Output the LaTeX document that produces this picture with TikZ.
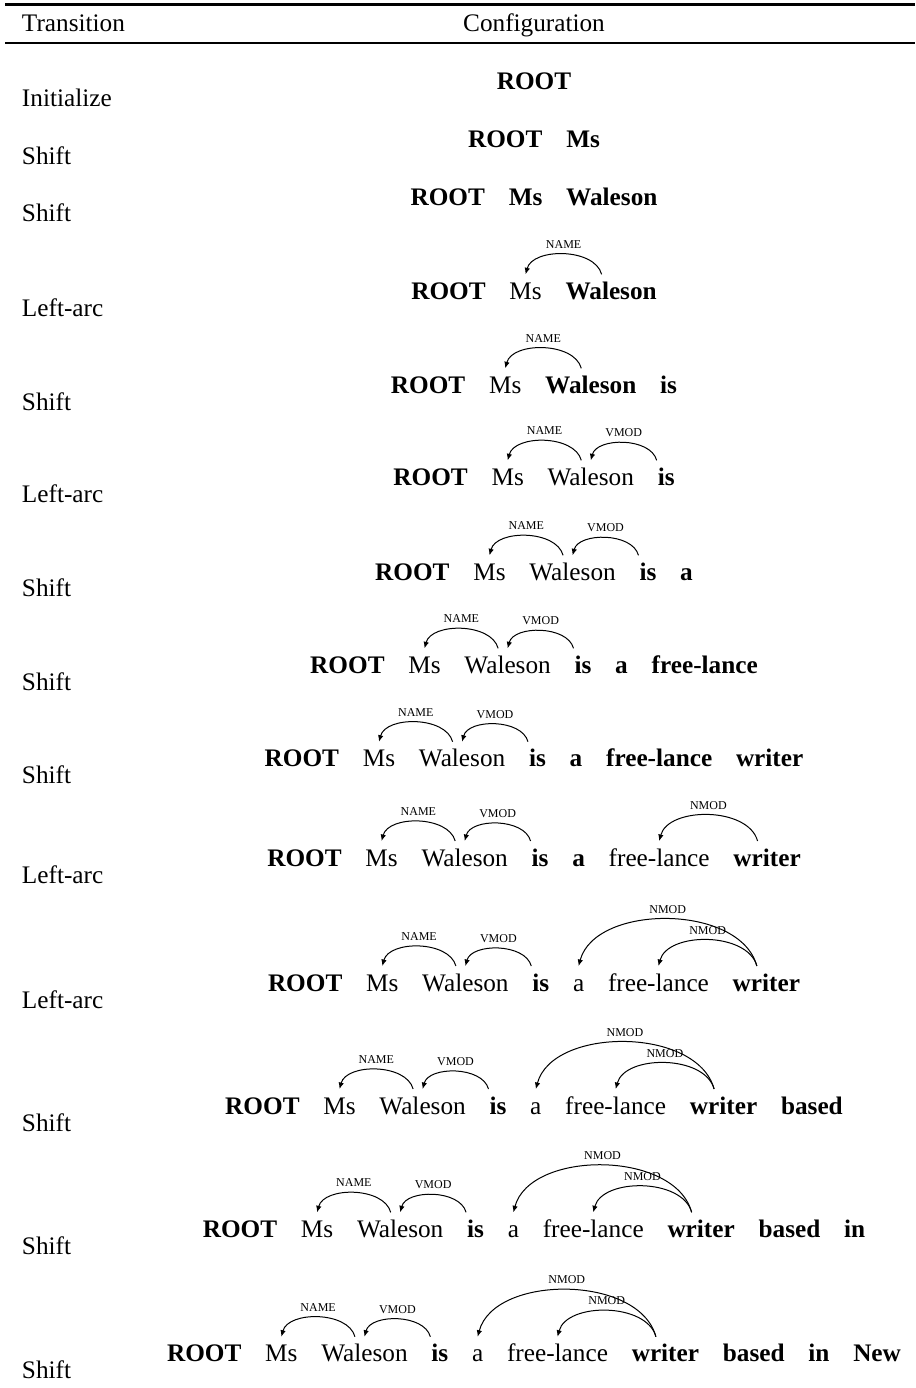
\documentclass[tikz,border=0pt]{standalone}
\usepackage{fontspec}
\setmainfont{Liberation Serif}
\usetikzlibrary{matrix,calc,arrows.meta}
\tikzset{
  word/.style={inner sep=0pt, text height=7pt, text depth=2pt},
  sent/.style={matrix of nodes, ampersand replacement=\&, column sep=9.52pt, inner sep=0pt, anchor=center, nodes={word}},
  deparc/.style={line width=0.4pt, -{Latex[length=2.6pt,width=2.2pt]}},
  deplabel/.style={inner sep=0pt, font=\fontsize{4.8}{5}\selectfont},
  trans/.style={inner sep=0pt, anchor=base west},
  toprulestyle/.style={line width=1.1pt},
  midrulestyle/.style={line width=0.55pt},
}
\newcommand\deparc[4]{%
  \draw[deparc] ($(#1.base)+(-9.5,25)$) to[out=105,in=75,looseness=0.93]
    node[deplabel,midway,yshift=4pt] (#4) {#3} ($(#2.base)+(0,25)$);}
\begin{document}
\begin{tikzpicture}[x=0.4pt,y=0.4pt,font=\fontsize{10.1}{12}\selectfont]
\useasboundingbox (0,0) rectangle (915,-1388);
% rules
\coordinate (tr1) at (5,-4.5); \coordinate (tr2) at (915,-4.5);
\coordinate (mr1) at (5,-43); \coordinate (mr2) at (915,-43);
\draw[toprulestyle] (tr1) -- (tr2);
\draw[midrulestyle] (mr1) -- (mr2);
% header
\node[trans] (hT) at (21.5,-31) {Transition};
\node[inner sep=0pt,anchor=base] (hC) at (534,-31) {Configuration};
% transitions
\node[trans] (t1) at (21.5,-106) {Initialize};
\node[trans] (t2) at (21.5,-164) {Shift};
\node[trans] (t3) at (21.5,-221.7) {Shift};
\node[trans] (t4) at (21.5,-316.3) {Left-arc};
\node[trans] (t5) at (21.5,-410.3) {Shift};
\node[trans] (t6) at (21.5,-502.3) {Left-arc};
\node[trans] (t7) at (21.5,-596.7) {Shift};
\node[trans] (t8) at (21.5,-690) {Shift};
\node[trans] (t9) at (21.5,-783.3) {Shift};
\node[trans] (t10) at (21.5,-883) {Left-arc};
\node[trans] (t11) at (21.5,-1008) {Left-arc};
\node[trans] (t12) at (21.5,-1131.7) {Shift};
\node[trans] (t13) at (21.5,-1254) {Shift};
\node[trans] (t14) at (21.5,-1378.7) {Shift};
% configurations
\matrix[sent] (r1) at (534,-83.05) {\textbf{ROOT}\\};
\matrix[sent] (r2) at (534,-141.05) {\textbf{ROOT} \& \textbf{Ms}\\};
\matrix[sent] (r3) at (534,-198.75) {\textbf{ROOT} \& \textbf{Ms} \& \textbf{Waleson}\\};
\matrix[sent] (r4) at (534,-293.05) {\textbf{ROOT} \& Ms \& \textbf{Waleson}\\};
\matrix[sent] (r5) at (534,-387.05) {\textbf{ROOT} \& Ms \& \textbf{Waleson} \& \textbf{is}\\};
\matrix[sent] (r6) at (534,-479.05) {\textbf{ROOT} \& Ms \& Waleson \& \textbf{is}\\};
\matrix[sent] (r7) at (534,-574.05) {\textbf{ROOT} \& Ms \& Waleson \& \textbf{is} \& \textbf{a}\\};
\matrix[sent] (r8) at (534,-667.05) {\textbf{ROOT} \& Ms \& Waleson \& \textbf{is} \& \textbf{a} \& \textbf{free-lance}\\};
\matrix[sent] (r9) at (534,-760.45) {\textbf{ROOT} \& Ms \& Waleson \& \textbf{is} \& \textbf{a} \& \textbf{free-lance} \& \textbf{writer}\\};
\matrix[sent] (r10) at (534,-859.75) {\textbf{ROOT} \& Ms \& Waleson \& \textbf{is} \& \textbf{a} \& free-lance \& \textbf{writer}\\};
\matrix[sent] (r11) at (534,-984.75) {\textbf{ROOT} \& Ms \& Waleson \& \textbf{is} \& a \& free-lance \& \textbf{writer}\\};
\matrix[sent] (r12) at (534,-1107.75) {\textbf{ROOT} \& Ms \& Waleson \& \textbf{is} \& a \& free-lance \& \textbf{writer} \& \textbf{based}\\};
\matrix[sent] (r13) at (534,-1231.05) {\textbf{ROOT} \& Ms \& Waleson \& \textbf{is} \& a \& free-lance \& \textbf{writer} \& \textbf{based} \& \textbf{in}\\};
\matrix[sent] (r14) at (534,-1355.45) {\textbf{ROOT} \& Ms \& Waleson \& \textbf{is} \& a \& free-lance \& \textbf{writer} \& \textbf{based} \& \textbf{in} \& \textbf{New}\\};
% arcs
\deparc{r4-1-3}{r4-1-2}{NAME}{l4a}
\deparc{r5-1-3}{r5-1-2}{NAME}{l5a}
\deparc{r6-1-3}{r6-1-2}{NAME}{l6a}
\deparc{r6-1-4}{r6-1-3}{VMOD}{l6b}
\deparc{r7-1-3}{r7-1-2}{NAME}{l7a}
\deparc{r7-1-4}{r7-1-3}{VMOD}{l7b}
\deparc{r8-1-3}{r8-1-2}{NAME}{l8a}
\deparc{r8-1-4}{r8-1-3}{VMOD}{l8b}
\deparc{r9-1-3}{r9-1-2}{NAME}{l9a}
\deparc{r9-1-4}{r9-1-3}{VMOD}{l9b}
\deparc{r10-1-3}{r10-1-2}{NAME}{l10a}
\deparc{r10-1-4}{r10-1-3}{VMOD}{l10b}
\deparc{r10-1-7}{r10-1-6}{NMOD}{l10c}
\deparc{r11-1-3}{r11-1-2}{NAME}{l11a}
\deparc{r11-1-4}{r11-1-3}{VMOD}{l11b}
\deparc{r11-1-7}{r11-1-6}{NMOD}{l11c}
\deparc{r11-1-7}{r11-1-5}{NMOD}{l11d}
\deparc{r12-1-3}{r12-1-2}{NAME}{l12a}
\deparc{r12-1-4}{r12-1-3}{VMOD}{l12b}
\deparc{r12-1-7}{r12-1-6}{NMOD}{l12c}
\deparc{r12-1-7}{r12-1-5}{NMOD}{l12d}
\deparc{r13-1-3}{r13-1-2}{NAME}{l13a}
\deparc{r13-1-4}{r13-1-3}{VMOD}{l13b}
\deparc{r13-1-7}{r13-1-6}{NMOD}{l13c}
\deparc{r13-1-7}{r13-1-5}{NMOD}{l13d}
\deparc{r14-1-3}{r14-1-2}{NAME}{l14a}
\deparc{r14-1-4}{r14-1-3}{VMOD}{l14b}
\deparc{r14-1-7}{r14-1-6}{NMOD}{l14c}
\deparc{r14-1-7}{r14-1-5}{NMOD}{l14d}
\end{tikzpicture}
\end{document}
